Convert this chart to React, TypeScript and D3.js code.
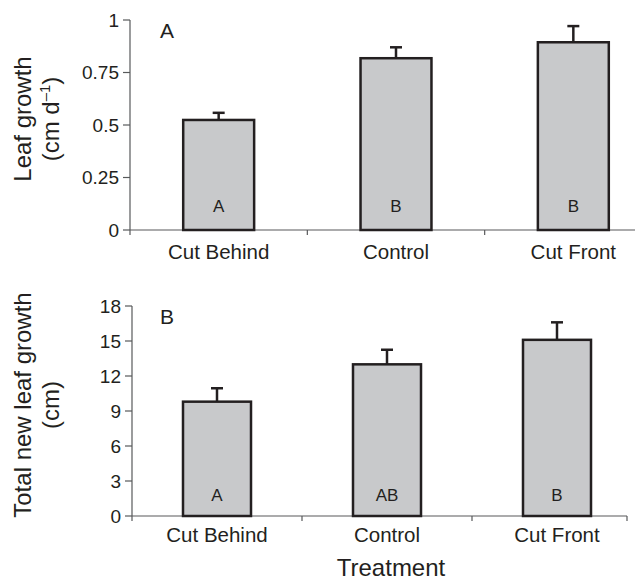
import * as d3 from "d3";

// categories and values
const treatments = ["Cut Behind", "Control", "Cut Front"];
const leafGrowth = [0.524, 0.818, 0.894];
const leafGrowthErr = [0.034, 0.052, 0.077];
const leafGroup = ["A", "B", "B"];
const totalGrowth = [9.8, 13.0, 15.1];
const totalGrowthErr = [1.15, 1.25, 1.5];
const totalGroup = ["A", "AB", "B"];
const leafTicks = [0, 0.25, 0.5, 0.75, 1];
const leafTickLabels = ["0", "0.25", "0.5", "0.75", "1"];
const totalTicks = [0, 3, 6, 9, 12, 15, 18];

const INK = "#231f20";
const AXIS = "#58595b";
const FILL = "#c8c9cb";
const FONT = "'Liberation Sans', Arial, Helvetica, sans-serif";

type PanelProps = {
  values: number[];
  errors: number[];
  groups: string[];
  ticks: number[];
  tickLabels: string[];
  yMax: number;
  top: number;
  bottom: number;
  left: number;
  right: number;
  axisEnd: number;
  endTick: boolean;
  letter: string;
  titleLines: string[];
  titleCenterY: number;
  groupOffset: number;
  catBaseline: number;
};

function Panel(p: PanelProps) {
  const x = d3
    .scaleBand<string>()
    .domain(treatments)
    .range([p.left, p.right])
    .paddingInner(0.6)
    .paddingOuter(0.3);
  const y = d3.scaleLinear().domain([0, p.yMax]).range([p.bottom, p.top]);
  const step = x.step();
  const bw = x.bandwidth();
  const boundaries = treatments.map((t) => (x(t) as number) - step * 0.3);
  if (p.endTick) boundaries.push(p.axisEnd);

  return (
    <g>
      {/* y axis */}
      <line x1={p.left} x2={p.left} y1={y(p.yMax)} y2={p.bottom} stroke={AXIS} strokeWidth={1.2} />
      {p.ticks.map((t, i) => (
        <g key={"yt" + i}>
          <line x1={p.left - 7} x2={p.left} y1={y(t)} y2={y(t)} stroke={AXIS} strokeWidth={1.2} />
          <text
            x={p.left - 11}
            y={y(t)}
            dy="0.36em"
            textAnchor="end"
            fontSize={19}
            fill={INK}
          >
            {p.tickLabels[i]}
          </text>
        </g>
      ))}
      {/* x axis */}
      <line x1={p.left} x2={p.axisEnd} y1={p.bottom} y2={p.bottom} stroke={AXIS} strokeWidth={1.2} />
      {boundaries.map((bx, i) => (
        <line key={"xt" + i} x1={bx} x2={bx} y1={p.bottom} y2={p.bottom + 5} stroke={AXIS} strokeWidth={1.2} />
      ))}
      {treatments.map((t) => (
        <text
          key={"xl" + t}
          x={(x(t) as number) + bw / 2}
          y={p.catBaseline}
          textAnchor="middle"
          fontSize={20.5}
          fill={INK}
        >
          {t}
        </text>
      ))}
      {/* bars with error bars */}
      {treatments.map((t, i) => {
        const bx = x(t) as number;
        const cx = bx + bw / 2;
        return (
          <g key={"bar" + t}>
            <line
              x1={cx}
              x2={cx}
              y1={y(p.values[i])}
              y2={y(p.values[i] + p.errors[i])}
              stroke={INK}
              strokeWidth={2.5}
            />
            <line
              x1={cx - 6}
              x2={cx + 6}
              y1={y(p.values[i] + p.errors[i])}
              y2={y(p.values[i] + p.errors[i])}
              stroke={INK}
              strokeWidth={2.5}
            />
            <rect
              x={bx}
              y={y(p.values[i])}
              width={bw}
              height={p.bottom - y(p.values[i])}
              fill={FILL}
              stroke={INK}
              strokeWidth={2.5}
            />
            <text
              x={cx}
              y={p.bottom - p.groupOffset}
              textAnchor="middle"
              fontSize={17}
              fill={INK}
            >
              {p.groups[i]}
            </text>
          </g>
        );
      })}
      {/* panel letter */}
      <text x={160} y={p.top + 18} fontSize={21} fill={INK}>
        {p.letter}
      </text>
      {/* y title */}
      {p.titleLines.map((line, i) => (
        <text
          key={"tl" + i}
          transform={`translate(${31 + i * 28},${p.titleCenterY}) rotate(-90)`}
          textAnchor="middle"
          fontSize={24}
          fill={INK}
        >
          {line}
        </text>
      ))}
    </g>
  );
}

export default function App() {
  return (
    <svg
      width={635}
      height={580}
      style={{ position: "absolute", left: 0, top: 0, background: "#fff" }}
      fontFamily={FONT}
    >
      <Panel
        values={leafGrowth}
        errors={leafGrowthErr}
        groups={leafGroup}
        ticks={leafTicks}
        tickLabels={leafTickLabels}
        yMax={1}
        top={20}
        bottom={230}
        left={130}
        right={662}
        axisEnd={640}
        endTick={false}
        letter="A"
        titleLines={["Leaf growth", ""]}
        titleCenterY={119}
        groupOffset={18}
        catBaseline={259}
      />
      <text
        transform="translate(59,119) rotate(-90)"
        textAnchor="middle"
        fontSize={24}
        fill={INK}
      >
        (cm d
        <tspan fontSize={15} dy="-9">
          –1
        </tspan>
        <tspan dy="9">)</tspan>
      </text>
      <Panel
        values={totalGrowth}
        errors={totalGrowthErr}
        groups={totalGroup}
        ticks={totalTicks}
        tickLabels={totalTicks.map(String)}
        yMax={18}
        top={306}
        bottom={516}
        left={132}
        right={642}
        axisEnd={627}
        endTick={true}
        letter="B"
        titleLines={["Total new leaf growth", "(cm)"]}
        titleCenterY={405}
        groupOffset={15}
        catBaseline={542}
      />
      <text x={391} y={576} textAnchor="middle" fontSize={24} fill={INK}>
        Treatment
      </text>
    </svg>
  );
}
